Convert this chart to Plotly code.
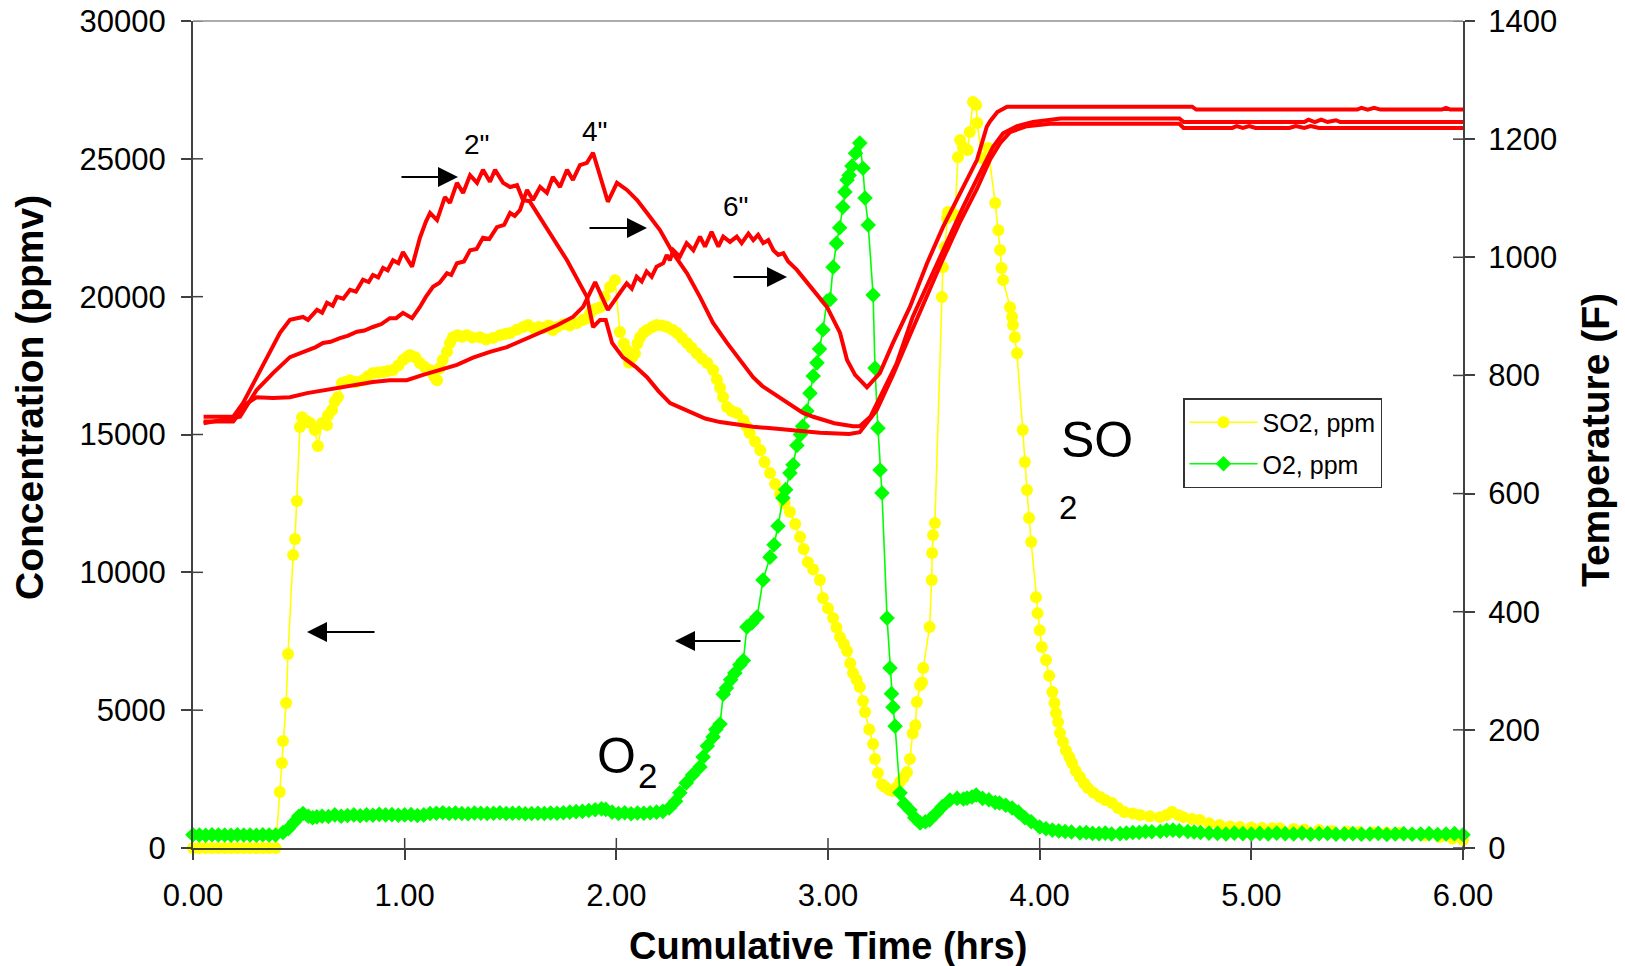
import plotly.graph_objects as go

FONT = "Liberation Sans, Arial, sans-serif"

# ---------------- data (time in hours) ----------------
SO2 = [(0.00,0),(0.03,0),(0.06,0),(0.09,0),(0.12,0),(0.15,0),(0.18,0),(0.21,0),(0.24,0),(0.27,0),
       (0.30,0),(0.33,0),(0.36,0),(0.39,0),(0.41,2030),(0.42,3080),(0.425,3880),(0.44,5260),
       (0.449,7040),(0.473,10630),(0.482,11210),(0.491,12590),(0.505,15270),(0.515,15630),
       (0.535,15500),(0.553,15420),(0.576,15160),(0.59,14580),(0.61,15420),(0.633,15340),
       (0.638,15700),(0.657,15890),(0.67,16200),(0.685,16360),(0.704,16870),(0.72,16900),
       (0.742,16970),(0.77,16900),(0.803,16970),(0.825,17100),(0.85,17230),(0.875,17250),
       (0.898,17270),(0.92,17300),(0.945,17340),(0.97,17500),(0.992,17700),(1.01,17800),
       (1.025,17880),(1.05,17800),(1.072,17590),(1.095,17450),(1.12,17340),(1.14,17100),
       (1.153,16970),(1.165,17400),(1.18,17700),(1.20,18000),(1.214,18320),(1.228,18530),
       (1.25,18600),(1.27,18550),(1.294,18600),(1.32,18520),(1.356,18530),(1.385,18450),
       (1.417,18500),(1.45,18600),(1.475,18650),(1.498,18680),(1.53,18800),(1.56,18900),
       (1.583,18970),(1.61,18850),(1.635,18900),(1.654,18860),(1.68,18950),(1.70,18790),
       (1.72,18900),(1.75,19000),(1.78,18950),(1.814,19040),(1.84,19150),(1.861,19220),
       (1.876,19400),(1.90,19550),(1.923,19620),(1.945,20000),(1.97,20350),(1.994,20600),
       (2.017,18720),(2.035,18300),(2.05,18060),(2.06,17600),(2.075,17800),(2.088,17950),
       (2.10,18300),(2.112,18530),(2.13,18700),(2.145,18790),(2.17,18900),(2.19,18970),
       (2.215,18950),(2.24,18900),(2.265,18800),(2.287,18680),(2.31,18500),(2.334,18320),
       (2.355,18150),(2.38,17950),(2.405,17750),(2.43,17590),(2.457,17340),(2.475,17000),
       (2.49,16700),(2.504,16360),(2.523,16000),(2.545,15850),(2.57,15780),(2.60,15520),
       (2.615,15300),(2.63,15050),(2.655,14750),(2.68,14430),(2.70,14000),(2.726,13600),
       (2.75,13200),(2.773,12840),(2.795,12500),(2.82,12190),(2.845,11750),(2.868,11280),
       (2.885,10850),(2.905,10370),(2.93,10100),(2.962,9720),(2.976,9070),(3.00,8700),
       (3.024,8340),(3.04,8000),(3.057,7650),(3.075,7400),(3.09,7150),(3.105,6700),
       (3.118,6350),(3.135,6100),(3.15,5840),(3.165,5330),(3.175,4930),(3.195,4300),
       (3.213,3770),(3.222,3230),(3.236,2720),(3.255,2300),(3.27,2210),(3.29,2100),
       (3.307,2070),(3.325,2200),(3.34,2400),(3.357,2550),(3.373,2750),(3.387,3230),
       (3.40,4150),(3.413,4450),(3.42,5300),(3.435,5900),(3.444,6000),(3.45,6530),
       (3.48,8020),(3.49,9720),(3.492,10700),(3.496,11350),(3.505,11790),(3.538,19990),
       (3.543,21070),(3.552,21800),(3.562,22850),(3.567,23070),(3.60,22960),(3.614,25060),
       (3.624,25680),(3.638,25420),(3.66,25320),(3.67,25970),(3.685,27060),(3.70,26950),
       (3.705,26300),(3.727,25030),(3.756,25390),(3.79,23400),(3.805,22410),(3.813,21690),
       (3.82,21040),(3.827,20600),(3.86,19620),(3.87,19260),(3.874,18970),(3.883,18530),
       (3.893,17950),(3.92,15160),(3.93,14000),(3.94,12990),(3.95,11970),(3.96,11100),
       (3.983,9100),(3.99,8520),(4.00,7900),(4.01,7290),(4.03,6820),(4.045,6250),(4.06,5660),
       (4.07,5260),(4.077,4900),(4.087,4570),(4.096,4170),(4.11,3850),(4.124,3550),(4.14,3300),
       (4.153,3080),(4.17,2800),(4.19,2575),(4.21,2350),(4.228,2180),(4.255,2000),(4.285,1850),
       (4.31,1740),(4.342,1630),(4.37,1450),(4.40,1310),(4.44,1250),(4.474,1200),(4.52,1150),
       (4.568,1120),(4.60,1200),(4.625,1310),(4.655,1200),(4.68,1120),(4.72,1050),(4.757,1020),
       (4.80,900),(4.85,830),(4.90,780),(4.946,760),(5.00,740),(5.05,730),(5.10,720),
       (5.135,720),(5.20,690),(5.25,670),(5.32,650),(5.38,620),(5.45,600),(5.51,580),
       (5.58,560),(5.64,550),(5.70,540),(5.76,500),(5.82,450),(5.89,400),(5.95,340),(6.00,290)]

O2 = [(0.00,480),(0.03,470),(0.06,460),(0.09,480),(0.12,470),(0.15,470),(0.18,460),(0.21,480),
      (0.24,470),(0.27,470),(0.30,460),(0.33,480),(0.36,470),(0.39,470),(0.425,560),(0.45,700),
      (0.48,950),(0.50,1150),(0.52,1250),(0.545,1150),(0.565,1100),(0.585,1130),(0.61,1150),
      (0.64,1140),(0.67,1200),(0.70,1150),(0.73,1180),(0.76,1200),(0.79,1170),(0.82,1200),
      (0.85,1190),(0.88,1220),(0.91,1200),(0.94,1210),(0.97,1190),(1.00,1200),(1.03,1210),
      (1.06,1180),(1.09,1200),(1.12,1250),(1.15,1260),(1.18,1280),(1.21,1250),(1.24,1270),
      (1.27,1250),(1.30,1240),(1.33,1270),(1.36,1260),(1.39,1250),(1.42,1260),(1.45,1280),
      (1.48,1250),(1.51,1260),(1.54,1270),(1.57,1240),(1.60,1250),(1.63,1260),(1.66,1250),
      (1.69,1270),(1.72,1260),(1.75,1280),(1.78,1300),(1.81,1320),(1.84,1330),(1.87,1360),
      (1.90,1390),(1.93,1420),(1.95,1400),(1.98,1300),(2.01,1250),(2.04,1280),(2.07,1240),
      (2.10,1270),(2.13,1260),(2.16,1280),(2.19,1300),(2.22,1330),(2.25,1450),(2.28,1700),
      (2.30,2000),(2.33,2360),(2.36,2650),(2.395,2940),(2.41,3300),(2.43,3700),(2.457,4030),
      (2.47,4300),(2.49,4500),(2.505,5580),(2.52,5800),(2.54,6100),(2.56,6350),(2.584,6650),
      (2.60,6800),(2.617,8020),(2.64,8160),(2.665,8380),(2.693,9720),(2.726,10550),
      (2.745,11000),(2.764,11680),(2.787,12700),(2.80,13000),(2.82,13600),(2.835,13900),
      (2.853,14600),(2.87,15000),(2.88,15300),(2.90,15850),(2.915,16500),(2.93,17120),
      (2.948,17600),(2.96,18100),(2.976,18800),(2.995,19840),(3.01,19900),(3.024,21070),
      (3.04,21940),(3.055,22500),(3.07,23250),(3.08,23800),(3.09,24230),(3.10,24400),
      (3.113,24740),(3.13,25200),(3.15,25570),(3.165,24660),(3.175,23580),(3.19,22600),
      (3.213,20060),(3.222,17410),(3.236,15230),(3.246,13710),(3.255,12880),(3.279,8340),
      (3.293,6530),(3.30,5600),(3.307,5110),(3.317,4420),(3.34,2000),(3.36,1600),(3.387,1380),
      (3.41,1100),(3.435,910),(3.46,950),(3.48,1020),(3.51,1250),(3.54,1500),(3.576,1740),
      (3.61,1800),(3.64,1780),(3.657,1810),(3.68,1850),(3.70,1920),(3.73,1800),(3.76,1750),
      (3.79,1650),(3.81,1630),(3.84,1550),(3.87,1450),(3.90,1300),(3.93,1100),(3.96,950),
      (4.00,760),(4.03,700),(4.06,650),(4.09,620),(4.12,600),(4.15,580),(4.19,550),(4.22,560),
      (4.25,530),(4.28,520),(4.31,540),(4.34,510),(4.38,520),(4.41,540),(4.44,560),(4.47,560),
      (4.50,600),(4.53,590),(4.57,600),(4.60,640),(4.63,650),(4.66,620),(4.70,600),(4.73,580),
      (4.76,560),(4.80,540),(4.84,530),(4.88,510),(4.92,540),(4.96,520),(5.00,510),(5.04,530),
      (5.08,510),(5.12,540),(5.16,520),(5.20,510),(5.24,540),(5.28,500),(5.32,520),(5.36,530),
      (5.40,500),(5.44,510),(5.48,520),(5.52,500),(5.56,510),(5.60,530),(5.64,490),(5.68,510),
      (5.72,520),(5.76,500),(5.80,510),(5.84,520),(5.88,490),(5.92,510),(5.96,520),(6.00,480)]

# Temperatures (F) at three depths
T_2IN = [(0.05,730),(0.19,730),(0.236,753),(0.30,797),(0.364,838),(0.411,872),(0.458,894),
         (0.52,899),(0.543,894),(0.586,911),(0.61,906),(0.633,923),(0.66,918),(0.68,933),
         (0.71,930),(0.742,945),(0.77,942),(0.803,962),(0.83,958),(0.85,970),(0.875,966),
         (0.898,982),(0.92,978),(0.945,995),(0.97,990),(0.992,1009),(1.035,984),(1.072,1033),
         (1.10,1060),(1.12,1075),(1.153,1063),(1.19,1102),(1.214,1092),(1.247,1126),
         (1.276,1109),(1.309,1139),(1.342,1126),(1.37,1148),(1.403,1128),(1.427,1148),
         (1.465,1126),(1.498,1119),(1.531,1122),(1.559,1097),(1.59,1095),(1.625,1075),
         (1.70,1034),(1.767,995),(1.861,933),(1.89,882),(1.923,894),(1.95,894),(1.98,855),
         (2.03,831),(2.09,815),(2.145,797),(2.20,773),(2.254,753),(2.30,746),(2.36,736),
         (2.42,727),(2.49,721),(2.56,717),(2.646,713),(2.72,711),(2.806,708),(2.88,705),
         (2.962,703),(3.10,701),(3.15,704),(3.23,741),(3.307,801),(3.387,868),(3.468,936),
         (3.543,997),(3.624,1060),(3.704,1116),(3.765,1165),(3.813,1193),(3.86,1212),
         (3.94,1222),(4.05,1226),(4.66,1226),(4.68,1219),(4.91,1219),(4.93,1222),(4.96,1219),
         (4.99,1222),(5.02,1219),(5.18,1219),(5.21,1222),(5.25,1219),(5.28,1222),(5.32,1219),
         (6.00,1219)]

T_4IN = [(0.05,719),(0.222,730),(0.30,775),(0.378,804),(0.458,831),(0.539,843),(0.58,848),
         (0.614,855),(0.65,857),(0.694,863),(0.73,867),(0.775,874),(0.81,876),(0.85,882),
         (0.89,887),(0.93,897),(0.96,897),(0.992,906),(1.035,897),(1.072,916),(1.10,933),
         (1.134,950),(1.165,957),(1.20,973),(1.22,970),(1.247,990),(1.28,993),(1.309,1012),
         (1.34,1014),(1.37,1033),(1.40,1031),(1.436,1051),(1.47,1055),(1.498,1075),
         (1.52,1070),(1.545,1080),(1.578,1114),(1.606,1097),(1.64,1119),(1.672,1109),
         (1.70,1136),(1.734,1119),(1.767,1148),(1.795,1131),(1.828,1156),(1.861,1160),
         (1.89,1177),(1.96,1094),(2.003,1126),(2.05,1114),(2.098,1097),(2.145,1075),
         (2.206,1046),(2.268,1007),(2.334,973),(2.395,933),(2.457,889),(2.523,855),(2.584,826),
         (2.646,797),(2.69,782),(2.74,770),(2.79,757),(2.835,747),(2.88,737),(2.93,730),
         (3.03,719),(3.118,714),(3.15,714),(3.20,730),(3.245,764),(3.325,821),(3.40,899),
         (3.48,962),(3.56,1024),(3.638,1085),(3.718,1143),(3.78,1187),(3.827,1210),(3.893,1222),
         (3.968,1229),(4.10,1235),(4.66,1235),(4.68,1229),(5.25,1229),(5.27,1233),(5.30,1229),
         (5.33,1233),(5.36,1229),(5.40,1232),(5.42,1229),(6.00,1229)]

T_6IN = [(0.05,722),(0.19,722),(0.255,753),(0.30,763),(0.378,762),(0.458,763),(0.539,770),
         (0.614,775),(0.694,780),(0.775,784),(0.85,789),(0.93,792),(1.01,792),(1.087,801),
         (1.167,809),(1.247,818),(1.323,830),(1.403,840),(1.483,848),(1.559,860),(1.64,874),
         (1.72,885),(1.795,899),(1.843,916),(1.90,958),(1.96,911),(2.017,940),(2.049,956),
         (2.073,947),(2.096,967),(2.12,959),(2.143,976),(2.167,967),(2.19,984),(2.222,990),
         (2.238,1004),(2.253,995),(2.269,1012),(2.30,1001),(2.332,1024),(2.364,1012),
         (2.395,1035),(2.419,1018),(2.45,1043),(2.482,1018),(2.505,1035),(2.537,1026),
         (2.569,1035),(2.592,1024),(2.624,1040),(2.647,1029),(2.67,1038),(2.694,1024),
         (2.718,1029),(2.742,1012),(2.765,1004),(2.789,1007),(2.812,993),(2.852,979),
         (2.93,945),(2.995,916),(3.057,872),(3.09,826),(3.128,801),(3.184,780),(3.245,804),
         (3.307,855),(3.387,916),(3.468,990),(3.543,1051),(3.624,1109),(3.704,1165),
         (3.75,1221),(3.765,1230),(3.80,1246),(3.846,1255),(4.72,1255),(4.74,1250),(5.50,1250),
         (5.52,1253),(5.55,1250),(5.58,1253),(5.61,1250),(5.90,1250),(5.92,1253),(5.94,1250),
         (6.00,1250)]

X_TICKS = [0, 1, 2, 3, 4, 5, 6]
X_TICKTEXT = ["0.00", "1.00", "2.00", "3.00", "4.00", "5.00", "6.00"]
Y_TICKS = [0, 5000, 10000, 15000, 20000, 25000, 30000]
Y2_TICKS = [0, 200, 400, 600, 800, 1000, 1200, 1400]

# ---------------- layout helpers (pixel -> paper) ----------------
L, R, T, B = 193, 1463, 21, 848
def px(X): return (X - L) / (R - L)
def py(Y): return (B - Y) / (B - T)

AX = "#404040"

fig = go.Figure()

fig.add_trace(go.Scatter(
    x=[p[0] for p in SO2], y=[p[1] for p in SO2], name="SO2, ppm", mode="lines+markers",
    line=dict(color="#FFFF00", width=1.6), marker=dict(symbol="circle", size=12, color="#FFFF00"),
    cliponaxis=False, legendgroup="a"))
fig.add_trace(go.Scatter(
    x=[p[0] for p in O2], y=[p[1] for p in O2], name="O2, ppm", mode="lines+markers",
    line=dict(color="#00FF00", width=1.6), marker=dict(symbol="diamond", size=12, color="#00FF00"),
    cliponaxis=False, legendgroup="b"))
for series in (T_2IN, T_4IN, T_6IN):
    fig.add_trace(go.Scatter(
        x=[p[0] for p in series], y=[p[1] for p in series], yaxis="y2", mode="lines",
        line=dict(color="#FF0000", width=4), showlegend=False, hoverinfo="skip"))

axis_common = dict(showgrid=False, zeroline=False, showline=True, linecolor=AX, linewidth=2,
                   ticks="outside", ticklen=10, tickwidth=1.5, tickcolor=AX, automargin=False,
                   tickfont=dict(family=FONT, size=31, color="black"))

fig.update_layout(
    width=1625, height=966, autosize=False,
    margin=dict(l=L, r=1625 - R, t=T, b=966 - B, pad=0, autoexpand=False),
    paper_bgcolor="white", plot_bgcolor="white",
    font=dict(family=FONT, color="black"),
    xaxis=dict(range=[0, 6], tickvals=X_TICKS, ticktext=X_TICKTEXT, ticklabelstandoff=9, **axis_common),
    yaxis=dict(range=[0, 30000], tickvals=Y_TICKS, ticktext=[str(v) for v in Y_TICKS],
               ticklabelstandoff=9, **axis_common),
    yaxis2=dict(range=[0, 1400], tickvals=Y2_TICKS, ticktext=[str(v) for v in Y2_TICKS],
                overlaying="y", side="right", anchor="x", ticklabelstandoff=7, **axis_common),
    legend=dict(x=px(1183), y=py(398), xanchor="left", yanchor="top",
                bgcolor="white", bordercolor="#333333", borderwidth=1.5,
                font=dict(family=FONT, size=25, color="black"), tracegroupgap=6,
                itemwidth=68),
    showlegend=True,
)

shapes = []
# top border
shapes.append(dict(type="line", xref="paper", yref="paper", x0=0, x1=1, y0=1, y1=1,
                   line=dict(color="#909090", width=1.5)))
# inner halves of the crossing tick marks
for v in X_TICKS:
    shapes.append(dict(type="line", xref="x", yref="paper", x0=v, x1=v, ysizemode="pixel",
                       yanchor=0, y0=0, y1=10, line=dict(color=AX, width=1.5), layer="below"))
for v in Y_TICKS:
    shapes.append(dict(type="line", yref="y", xref="paper", y0=v, y1=v, xsizemode="pixel",
                       xanchor=0, x0=0, x1=10, line=dict(color=AX, width=1.5), layer="below"))
for v in Y2_TICKS:
    shapes.append(dict(type="line", yref="y2", xref="paper", y0=v, y1=v, xsizemode="pixel",
                       xanchor=1, x0=-10, x1=0, line=dict(color=AX, width=1.5), layer="below"))
fig.update_layout(shapes=shapes)

ann = []
def text(X, Y, s, size, bold=False, angle=0):
    ann.append(dict(xref="paper", yref="paper", x=px(X), y=py(Y), text=(f"<b>{s}</b>" if bold else s),
                    showarrow=False, textangle=angle, xanchor="center", yanchor="middle",
                    font=dict(family=FONT, size=size, color="black")))

text(828, 946, "Cumulative Time (hrs)", 38, bold=True)
text(29, 398, "Concentration (ppmv)", 39, bold=True, angle=-90)
text(1596, 440, "Temperature (F)", 39, bold=True, angle=-90)
text(477, 144, '2"', 28)
text(595, 131, '4"', 28)
text(736, 207, '6"', 28)
text(1097, 440, "SO", 50)
text(1068, 507, "2", 33)
text(616, 756, "O", 50)
text(647, 775, "2", 35)

def arrow(hx, hy, tx, ty):
    ann.append(dict(xref="paper", yref="paper", x=px(hx), y=py(hy), ax=tx - hx, ay=ty - hy,
                    text="", showarrow=True, arrowhead=2, arrowsize=2, arrowwidth=2,
                    arrowcolor="black", standoff=0, startstandoff=0))

arrow(458, 177, 400, 177)
arrow(647, 228, 588, 228)
arrow(787, 277, 732, 277)
arrow(307, 632, 376, 632)
arrow(675, 641, 742, 641)

fig.update_layout(annotations=ann)

fig.write_html("out.html")
